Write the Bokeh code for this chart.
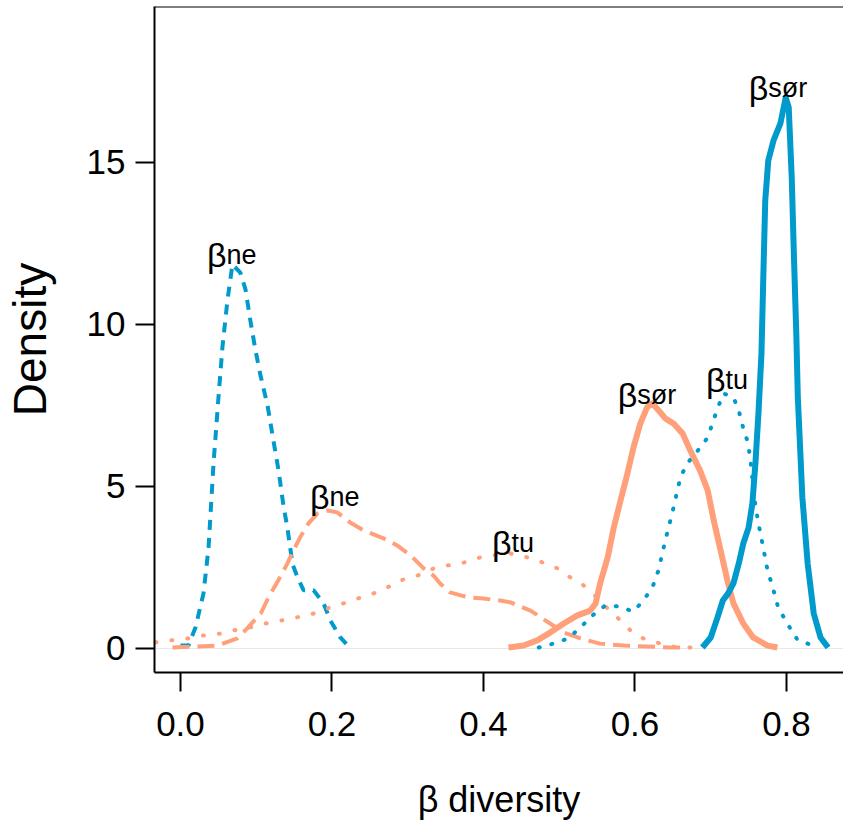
from bokeh.plotting import figure
from bokeh.models import Span, FixedTicker, Range1d, ColumnDataSource
from bokeh.embed import file_html
from bokeh.resources import INLINE
from bokeh.core.properties import value

BLUE = "#009ACD"
SALMON = "#FFA07A"
FONT = "Liberation Sans"

# ---- data (beta diversity densities) ----
blue_ne_x = [0.0, 0.0106, 0.0198, 0.0304, 0.037, 0.0436, 0.050, 0.0554, 0.062, 0.0686,
             0.079, 0.0858, 0.0924, 0.099, 0.1056, 0.1149, 0.1228, 0.1294, 0.136, 0.1413,
             0.1479, 0.1545, 0.1624, 0.1756, 0.1888, 0.198, 0.211, 0.2205]
blue_ne_y = [0.09, 0.1, 0.65, 1.7, 3.1, 5.7, 7.7, 9.3, 10.74, 11.85,
             11.6, 11.08, 10.1, 9.2, 8.43, 7.5, 6.4, 5.5, 4.4, 3.7,
             2.6, 2.2, 1.8, 1.8, 1.4, 0.86, 0.34, 0.1]

salmon_ne_x = [-0.0106, 0.049, 0.075, 0.088, 0.106, 0.116, 0.129, 0.141, 0.149, 0.158,
               0.169, 0.181, 0.194, 0.207, 0.224, 0.242, 0.268, 0.286, 0.304, 0.321,
               0.334, 0.343, 0.356, 0.370, 0.383, 0.400, 0.422, 0.436, 0.462, 0.488,
               0.506, 0.528, 0.554, 0.585, 0.616, 0.647, 0.669]
salmon_ne_y = [0.03, 0.09, 0.31, 0.62, 1.08, 1.57, 2.1, 2.62, 3.02, 3.43,
               3.86, 4.17, 4.26, 4.2, 3.89, 3.64, 3.4, 3.18, 2.87, 2.47,
               2.25, 2.0, 1.73, 1.64, 1.57, 1.54, 1.48, 1.42, 1.17, 0.77,
               0.49, 0.31, 0.15, 0.09, 0.06, 0.03, 0.03]

salmon_tu_x = [-0.033, -0.013, 0.009, 0.030, 0.053, 0.070, 0.092, 0.112, 0.132, 0.154,
               0.176, 0.198, 0.215, 0.234, 0.255, 0.273, 0.290, 0.313, 0.334, 0.352,
               0.374, 0.396, 0.413, 0.436, 0.458, 0.479, 0.498, 0.515, 0.532, 0.550,
               0.564, 0.581, 0.594, 0.611, 0.634, 0.656, 0.677]
salmon_tu_y = [0.19, 0.25, 0.31, 0.40, 0.46, 0.56, 0.65, 0.77, 0.86, 0.96,
               1.08, 1.27, 1.39, 1.54, 1.70, 1.88, 2.10, 2.25, 2.47, 2.56,
               2.65, 2.81, 2.87, 2.93, 2.81, 2.65, 2.47, 2.19, 1.95, 1.57,
               1.23, 0.86, 0.56, 0.31, 0.15, 0.03, 0.03]

salmon_sor_x = [0.433, 0.453, 0.471, 0.488, 0.506, 0.524, 0.541, 0.548, 0.554, 0.564,
                0.572, 0.581, 0.590, 0.598, 0.607, 0.616, 0.623, 0.631, 0.640, 0.651,
                0.663, 0.673, 0.686, 0.696, 0.704, 0.713, 0.722, 0.730, 0.743, 0.756,
                0.775, 0.788]
salmon_sor_y = [0.03, 0.09, 0.25, 0.49, 0.77, 1.02, 1.17, 1.39, 2.01, 2.81,
                3.73, 4.57, 5.40, 6.20, 6.94, 7.44, 7.56, 7.35, 7.10, 6.94,
                6.63, 6.11, 5.49, 4.88, 3.95, 3.03, 2.10, 1.39, 0.77, 0.34,
                0.09, 0.03]

blue_tu_x = [0.473, 0.492, 0.512, 0.528, 0.544, 0.561, 0.578, 0.598, 0.611, 0.623,
             0.631, 0.640, 0.650, 0.656, 0.660, 0.669, 0.683, 0.696, 0.709, 0.717,
             0.730, 0.737, 0.743, 0.749, 0.752, 0.759, 0.763, 0.770, 0.775, 0.782,
             0.789, 0.801, 0.815, 0.836]
blue_tu_y = [0.03, 0.15, 0.31, 0.65, 1.02, 1.33, 1.30, 1.14, 1.48, 1.88,
             2.41, 3.33, 4.26, 4.88, 5.28, 5.71, 6.11, 6.51, 7.41, 7.87,
             7.75, 7.35, 6.79, 6.36, 5.90, 4.41, 3.86, 3.03, 2.41, 1.88,
             1.27, 0.77, 0.25, 0.09]

blue_sor_x = [0.689, 0.700, 0.709, 0.716, 0.723, 0.730, 0.737, 0.743, 0.750, 0.755,
              0.759, 0.763, 0.767, 0.770, 0.772, 0.776, 0.783, 0.792, 0.799, 0.803,
              0.807, 0.810, 0.813, 0.815, 0.821, 0.828, 0.836, 0.845, 0.855]
blue_sor_y = [0.03, 0.34, 0.96, 1.48, 1.70, 2.01, 2.62, 3.24, 3.73, 4.47,
              5.71, 7.25, 9.1, 12.0, 13.83, 15.06, 15.68, 16.2, 17.0, 16.7,
              14.5, 12.0, 9.7, 7.75, 4.66, 2.62, 1.08, 0.34, 0.03]

# curve labels: beta + subscript text
label_x = [0.0607, 0.1967, 0.437, 0.603, 0.7195, 0.776]
label_y = [12.13, 4.66, 3.27, 7.81, 8.27, 17.31]
label_sub = ["ne", "ne", "tu", "sør", "tu", "sør"]

x_ticks = [0.0, 0.2, 0.4, 0.6, 0.8]
y_ticks = [0, 5, 10, 15]
x_title = "β diversity"
y_title = "Density"

Y_TOP = 19.81
p = figure(width=843, height=834, output_backend="svg", toolbar_location=None,
           x_range=Range1d(-0.0343, 0.8753), y_range=Range1d(-0.741, Y_TOP),
           min_border_left=154, min_border_right=0, min_border_top=6,
           min_border_bottom=162)
p.outline_line_color = None
p.xgrid.visible = False
p.ygrid.visible = False
p.background_fill_color = "white"
p.border_fill_color = "white"

zero = Span(location=0, dimension="width", line_color="#e8e8e8", line_width=1,
            level="underlay")
p.add_layout(zero)
top = Span(location=Y_TOP, dimension="width", line_color="black", line_width=2)
p.add_layout(top)

p.line(blue_ne_x, blue_ne_y, line_color=BLUE, line_width=4, line_dash="10 8")
p.line(salmon_ne_x, salmon_ne_y, line_color=SALMON, line_width=4, line_dash="17 8")
p.line(salmon_tu_x, salmon_tu_y, line_color=SALMON, line_width=4, line_dash="1 15",
       line_cap="round")
p.line(blue_tu_x, blue_tu_y, line_color=BLUE, line_width=4, line_dash="1 12",
       line_cap="round")
p.line(salmon_sor_x, salmon_sor_y, line_color=SALMON, line_width=6, line_join="round")
p.line(blue_sor_x, blue_sor_y, line_color=BLUE, line_width=6, line_join="round")

src = ColumnDataSource(dict(x=label_x, y=label_y, sub=label_sub,
                            beta=["β"] * len(label_x)))
p.text(x="x", y="y", text="beta", source=src, text_align="right",
       text_baseline="alphabetic", text_font=value(FONT), text_font_size="34px",
       text_color="black")
p.text(x="x", y="y", text="sub", source=src, text_align="left",
       text_baseline="alphabetic", text_font=value(FONT), text_font_size="27px",
       text_color="black")

for ax in (p.xaxis[0], p.yaxis[0]):
    ax.axis_line_width = 2
    ax.axis_line_color = "black"
    ax.major_tick_line_width = 2
    ax.major_tick_line_color = "black"
    ax.major_tick_in = 0
    ax.major_tick_out = 19
    ax.minor_tick_line_color = None
    ax.major_label_text_font = FONT
    ax.major_label_text_font_size = "35px"
    ax.major_label_text_color = "black"
    ax.axis_label_text_font = FONT
    ax.axis_label_text_font_style = "normal"
    ax.axis_label_text_color = "black"

p.xaxis.ticker = FixedTicker(ticks=x_ticks)
p.xaxis.major_label_overrides = {t: f"{t:.1f}" for t in x_ticks}
p.yaxis.ticker = FixedTicker(ticks=y_ticks)
p.yaxis.major_label_overrides = {t: str(t) for t in y_ticks}
p.xaxis.major_label_standoff = 20
p.yaxis.major_label_standoff = 10
p.xaxis.axis_label = x_title
p.xaxis.axis_label_text_font_size = "36px"
p.xaxis.axis_label_standoff = 40
p.yaxis.axis_label = y_title
p.yaxis.axis_label_text_font_size = "46px"
p.yaxis.axis_label_standoff = 28

open("out.html", "w").write(file_html(p, INLINE))
